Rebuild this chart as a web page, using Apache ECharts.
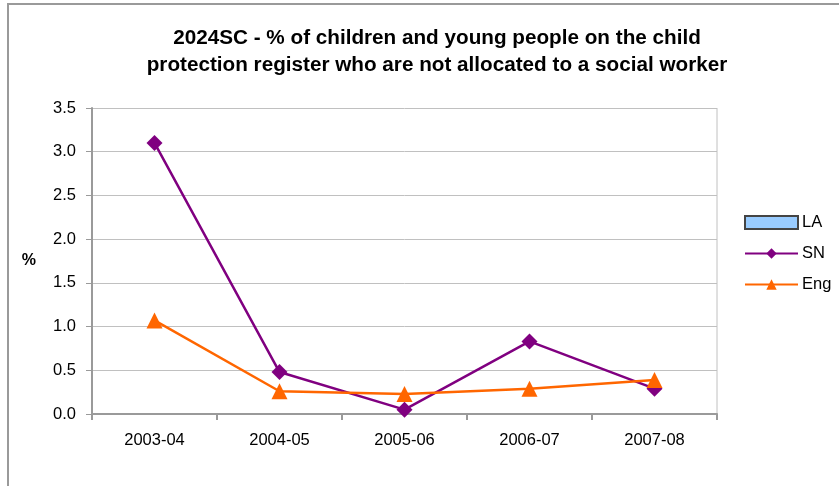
<!DOCTYPE html>
<html><head><meta charset="utf-8">
<script src="https://cdn.jsdelivr.net/npm/echarts@6/dist/echarts.min.js"></script>
<style>html,body{margin:0;padding:0;background:#fff}#c{width:839px;height:486px}</style>
</head><body><div id="c"></div>
<script>
var categories = ['2003-04','2004-05','2005-06','2006-07','2007-08'];
var LA = [];
var SN = [3.1, 0.48, 0.05, 0.83, 0.29];
var Eng = [1.07, 0.26, 0.23, 0.29, 0.39];
var yTicks = {min: 0, max: 3.5, interval: 0.5};
var chart = echarts.init(document.getElementById('c'), null, {renderer: 'canvas'});
chart.setOption({
  animation: false,
  backgroundColor: '#fff',
  textStyle: {fontFamily: 'Liberation Sans'},
  title: {
    text: '2024SC - % of children and young people on the child\nprotection register who are not allocated to a social worker',
    left: 432, top: 20, textAlign: 'center',
    textStyle: {fontFamily: 'Liberation Sans', fontSize: 20.7, fontWeight: 'bold', color: '#000', lineHeight: 27}
  },
  graphic: [
    {type: 'rect', shape: {x: 8, y: 4, width: 900, height: 600}, style: {fill: 'none', stroke: '#9a9a9a', lineWidth: 2}, silent: true},
    {type: 'line', shape: {x1: 717, y1: 108, x2: 717, y2: 414}, style: {stroke: '#c0c0c0', lineWidth: 1}, silent: true}
  ],
  legend: {
    orient: 'vertical', left: 739, top: 209, itemGap: 14, itemWidth: 53, itemHeight: 13,
    textStyle: {fontFamily: 'Liberation Sans', fontSize: 16.5, color: '#000', padding: [0,0,0,-1]},
    data: [
      {name: 'LA', icon: 'rect'},
      {name: 'SN'},
      {name: 'Eng'}
    ]
  },
  grid: {left: 92, top: 108, width: 625, height: 306, containLabel: false},
  xAxis: {
    type: 'category', data: categories, boundaryGap: true,
    axisLine: {lineStyle: {color: '#9a9a9a', width: 2}},
    axisTick: {show: true, length: 6, lineStyle: {color: '#9a9a9a', width: 2}},
    axisLabel: {color: '#000', fontSize: 16.5, margin: 18, fontFamily: 'Liberation Sans'}
  },
  yAxis: {
    type: 'value', min: yTicks.min, max: yTicks.max, interval: yTicks.interval,
    name: '%', nameLocation: 'middle', nameRotate: 0, nameGap: 56,
    nameTextStyle: {fontSize: 16, fontWeight: 'bold', color: '#000', fontFamily: 'Liberation Sans'},
    axisLine: {show: true, lineStyle: {color: '#9a9a9a', width: 2}},
    axisTick: {show: true, length: 6, lineStyle: {color: '#9a9a9a', width: 1}},
    axisLabel: {color: '#000', fontSize: 16.5, margin: 16, formatter: function(v){return v.toFixed(1);}, fontFamily: 'Liberation Sans'},
    splitLine: {lineStyle: {color: '#c0c0c0', width: 1}}
  },
  series: [
    {name: 'LA', type: 'bar', data: LA, itemStyle: {color: '#99CCFF', borderColor: '#444', borderWidth: 1}},
    {name: 'SN', type: 'line', data: SN, symbol: 'diamond', symbolSize: 16,
      lineStyle: {color: '#800080', width: 2.5}, itemStyle: {color: '#800080'}},
    {name: 'Eng', type: 'line', data: Eng, symbol: 'triangle', symbolSize: 16,
      lineStyle: {color: '#FF6600', width: 2.5}, itemStyle: {color: '#FF6600'}}
  ]
});
</script></body></html>
